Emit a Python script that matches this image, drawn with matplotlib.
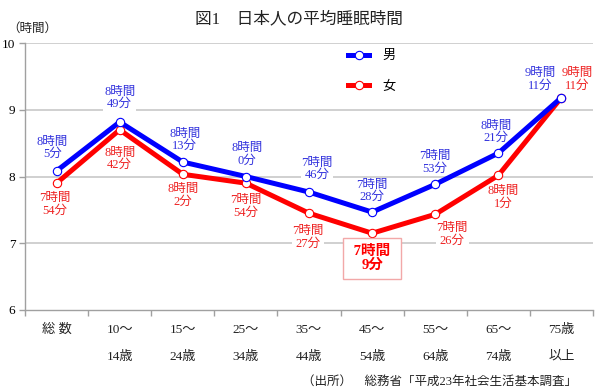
import matplotlib
matplotlib.use("Agg")
import matplotlib.pyplot as plt
from matplotlib.lines import Line2D

plt.rcParams['font.family'] = ['Liberation Serif', 'Noto Sans CJK JP', 'DejaVu Sans']

categories_top = ["総 数", "10～", "15～", "25～", "35～", "45～", "55～", "65～", "75歳"]
categories_bottom = ["", "14歳", "24歳", "34歳", "44歳", "54歳", "64歳", "74歳", "以上"]

male_hours = [8, 8, 8, 8, 7, 7, 7, 8, 9]
male_minutes = [5, 49, 13, 0, 46, 28, 53, 21, 11]
female_hours = [7, 8, 8, 7, 7, 7, 7, 8, 9]
female_minutes = [54, 42, 2, 54, 27, 9, 26, 1, 11]

male = [h + m / 60 for h, m in zip(male_hours, male_minutes)]
female = [h + m / 60 for h, m in zip(female_hours, female_minutes)]

BLUE = "#0000ff"
RED = "#ff0000"
BLUE_TXT = "#3333dd"
RED_TXT = "#ee2222"

fig = plt.figure(figsize=(6.0, 3.92), dpi=100)
W, H = 600, 392
ax = fig.add_axes([25 / W, 1 - 310 / H, (593 - 25) / W, (310 - 43) / H])

x = list(range(len(male)))
ax.set_xlim(-0.5, len(male) - 0.5)
ax.set_ylim(6, 10)
ax.set_yticks([6, 7, 8, 9, 10])
ax.set_yticklabels(["6", "7", "8", "9", "10"], fontsize=9.5)
for yv in [7, 8, 9, 10]:
    ax.axhline(yv, color="#c8c8c8", lw=1.2, zorder=0)

ax.set_xticks([i - 0.5 for i in range(len(male) + 1)])
ax.set_xticklabels([])
ax.tick_params(axis="x", length=4, color="#a0a0a0", width=1)
ax.tick_params(axis="y", length=4, color="#a0a0a0", width=1, pad=3)
for s in ["top", "right"]:
    ax.spines[s].set_visible(False)
for s in ["left", "bottom"]:
    ax.spines[s].set_color("#a0a0a0")
    ax.spines[s].set_linewidth(1.0)

ax.plot(x, male, color=BLUE, lw=3.6, marker="o", ms=6, mfc="white",
        mec=BLUE, mew=0.8, zorder=4, solid_capstyle="butt")
ax.plot(x, female, color=RED, lw=3.6, marker="o", ms=6, mfc="white",
        mec=RED, mew=0.8, zorder=3, solid_capstyle="butt")

# label offsets in pixels (dx, dy), positive dy upward
male_off = [(-4, 23), (0, 24), (2, 22), (1, 22), (8, 23), (0, 21), (0, 22), (-2, 21), (-21, 18)]
female_off = [(-2, -21), (0, -29), (0, -21), (0, -23), (-1, -24), (0, -25), (17, -20), (5, -22), (16, 18)]

bg = dict(facecolor="white", edgecolor="none", pad=0.5)
for i in x:
    dx, dy = male_off[i]
    ax.annotate(f"{male_hours[i]}時間\n{male_minutes[i]}分", (i, male[i]),
                xytext=(dx, dy), textcoords="offset pixels", ha="center", va="center",
                fontsize=9, color=BLUE_TXT, linespacing=1.05, bbox=bg, zorder=2)
for i in x:
    dx, dy = female_off[i]
    if i == 5:
        ax.annotate(f" {female_hours[i]}時間 \n{female_minutes[i]}分", (i, female[i]),
                    xytext=(dx, dy), textcoords="offset pixels", ha="center", va="center",
                    fontsize=10.5, fontweight="bold", color=RED, linespacing=1.0,
                    bbox=dict(boxstyle="square,pad=0.5", facecolor="white",
                              edgecolor="#f2a8a8", lw=1.0), zorder=5)
    else:
        ax.annotate(f"{female_hours[i]}時間\n{female_minutes[i]}分", (i, female[i]),
                    xytext=(dx, dy), textcoords="offset pixels", ha="center", va="center",
                    fontsize=9, color=RED_TXT, linespacing=1.05, bbox=bg, zorder=2)

# category labels
for i in x:
    ax.annotate(categories_top[i], (i, 6), xytext=(0, -20), textcoords="offset pixels",
                ha="center", va="center", fontsize=9.5, color="#222222",
                annotation_clip=False)
    if categories_bottom[i]:
        ax.annotate(categories_bottom[i], (i, 6), xytext=(0, -47), textcoords="offset pixels",
                    ha="center", va="center", fontsize=9.5, color="#222222",
                    annotation_clip=False)

fig.text(299 / W, 1 - 19 / H, "図1　日本人の平均睡眠時間", ha="center", va="center",
         fontsize=12, color="#222222")
fig.text(32 / W, 1 - 29 / H, "（時間）", ha="center", va="center", fontsize=9, color="#222222")
fig.text(577 / W, 1 - 382 / H, "（出所）　総務省「平成23年社会生活基本調査」", ha="right",
         va="center", fontsize=9, color="#222222")

handles = [
    Line2D([], [], color=BLUE, lw=3.6, marker="o", ms=6, mfc="white", mec=BLUE, mew=0.8),
    Line2D([], [], color=RED, lw=3.6, marker="o", ms=6, mfc="white", mec=RED, mew=0.8),
]
fig.legend(handles, ["男", "女"], loc="upper left", bbox_to_anchor=(348 / W, 1 - 50 / H),
           frameon=False, fontsize=9.5, handlelength=1.6, handletextpad=1.0,
           labelspacing=1.4, borderpad=0, borderaxespad=0)

fig.savefig("out.png", dpi=100)
